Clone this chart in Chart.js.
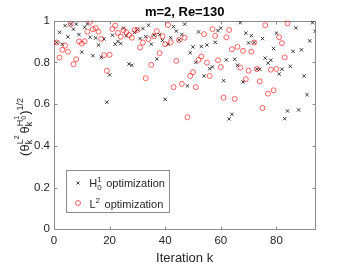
<!DOCTYPE html>
<html>
<head>
<meta charset="utf-8">
<script src="https://cdn.jsdelivr.net/npm/chart.js@4"></script>
<style>
  html, body { margin: 0; background: #fff; }
  canvas { display: block; }
</style>
</head>
<body>
<canvas id="chart" width="341" height="266"></canvas>
<script>
// Chart text and ticks
const TITLE = 'm=2, Re=130';
const X_LABEL = 'Iteration k';
const X_TICKS = [0, 20, 40, 60, 80];
const Y_TICKS = [0, 0.2, 0.4, 0.6, 0.8, 1];
const Y_TICK_LABELS = ['0', '0.2', '0.4', '0.6', '0.8', '1'];
const SERIES_LABELS = ['H\u2080\u00b9 optimization', 'L\u00b2 optimization'];

// H^1_0 optimization, iterations 1..94 (black crosses)
const H1_VALUES = [
  0.895, 0.944, 0.887, 0.976, 0.922, 0.983, 0.959, 0.983, 0.933, 0.849,
  0.968, 0.984, 0.920, 0.832, 0.917, 0.883, 0.824, 0.912, 0.609, 0.740,
  0.930, 0.887, 0.900, 0.890, 0.964, 0.927, 0.792, 0.786, 0.943, 0.957,
  0.914, 0.962, 0.923, 0.978, 0.887, 0.930, 0.816, 0.933, 0.905, 0.623,
  0.887, 0.918, 0.971, 0.950, 0.907, 0.933, 0.983, 0.687, 0.846, 0.874,
  0.800, 0.946, 0.876, 0.735, 0.883, 0.770, 0.778, 0.896, 0.952, 0.964,
  0.712, 0.812, 0.529, 0.551, 0.815, 0.786, 0.990, 0.706, 0.940, 0.893,
  0.928, 0.895, 0.767, 0.767, 0.914, 0.820, 0.796, 0.810, 0.866, 0.940,
  0.744, 0.767, 0.530, 0.567, 0.781, 0.853, 0.965, 0.572, 0.860, 0.735,
  0.645, 0.903, 0.990, 0.949
];

// L^2 optimization, iterations 1..84 (red circles)
const L2_VALUES = [
  0.895, 0.823, 0.860, 0.880, 0.851, 0.983, 0.791, 0.815, 0.900, 0.890,
  0.901, 0.947, 0.994, 0.959, 0.964, 0.947, 0.912, 0.834, 0.760, 0.836,
  0.960, 0.976, 0.941, 0.923, 0.954, 0.944, 0.931, 0.918, 0.955, 0.955,
  0.871, 0.895, 0.724, 0.911, 0.788, 0.925, 0.949, 0.844, 0.925, 0.887,
  0.979, 0.896, 0.681, 0.807, 0.907, 0.697, 0.918, 0.537, 0.735, 0.753,
  0.681, 0.812, 0.828, 0.935, 0.799, 0.735, 0.959, 0.927, 0.810, 0.777,
  0.631, 0.920, 0.955, 0.863, 0.625, 0.874, 0.775, 0.855, 0.719, 0.760,
  0.851, 0.895, 0.768, 0.709, 0.581, 0.978, 0.650, 0.765, 0.666, 0.768,
  0.920, 0.892, 0.824, 0.986
];

const FONT = '"Liberation Sans", Arial, Helvetica, sans-serif';
const AXIS_COLOR = '#8c8c8c';
const TEXT_COLOR = '#262626';
const CROSS_COLOR = 'rgba(0,0,0,0.75)';
const CIRCLE_COLOR = 'rgba(255,0,0,0.6)';

const toPoints = vals => vals.map((v, i) => ({ x: i + 1, y: v }));

// MATLAB-style box with inward ticks on all four sides
const framePlugin = {
  id: 'frame',
  beforeDatasetsDraw(chart) {
    const { ctx, chartArea: a, scales } = chart;
    const L = Math.round(a.left) + 0.5, R = Math.round(a.right) + 0.5;
    const T = Math.round(a.top) + 0.5, B = Math.round(a.bottom) + 0.5;
    ctx.save();
    ctx.strokeStyle = AXIS_COLOR;
    ctx.lineWidth = 1;
    ctx.strokeRect(L, T, R - L, B - T);
    ctx.beginPath();
    X_TICKS.forEach(v => {
      const px = Math.round(scales.x.getPixelForValue(v)) + 0.5;
      ctx.moveTo(px, B); ctx.lineTo(px, B - 3);
      ctx.moveTo(px, T); ctx.lineTo(px, T + 3);
    });
    Y_TICKS.forEach(v => {
      const py = Math.round(scales.y.getPixelForValue(v)) + 0.5;
      ctx.moveTo(L, py); ctx.lineTo(L + 3, py);
      ctx.moveTo(R, py); ctx.lineTo(R - 3, py);
    });
    ctx.stroke();
    ctx.restore();
  }
};

// rotated y label: (theta_k^{L^2} theta_k^{H^1_0})^{1/2}
function yTitleRuns(ctx, draw) {
  let x = 0;
  const put = (t, s, dx, dy) => {
    ctx.font = s + 'px ' + FONT;
    if (draw) ctx.fillText(t, x + dx, dy);
    return ctx.measureText(t).width;
  };
  x += put('(', 13, 0, 0);
  x += put('\u03b8', 13, 0, 0);
  let a = put('k', 9, 0, 3);
  let b = put('L', 9, 0, -6);
  b += put('2', 7, b, -10);
  x += Math.max(a, b) + 2;
  x += put('\u03b8', 13, 0, 0);
  a = put('k', 9, 0, 3);
  b = put('H', 9, 0, -6);
  b += Math.max(put('1', 7, b, -10), put('0', 7, b, -3));
  x += Math.max(a, b) + 1;
  x += put(')', 13, 0, 0);
  x += put('1/2', 9, 0, -6);
  return x;
}

const yTitlePlugin = {
  id: 'yTitle',
  afterDraw(chart) {
    const { ctx, chartArea: a } = chart;
    ctx.save();
    ctx.fillStyle = TEXT_COLOR;
    ctx.textBaseline = 'alphabetic';
    const w = yTitleRuns(ctx, false);
    ctx.translate(28.5, (a.top + a.bottom) / 2 + 2 + w / 2);
    ctx.rotate(-Math.PI / 2);
    yTitleRuns(ctx, true);
    ctx.restore();
  }
};

// legend box inside the axes, lower left
const legendPlugin = {
  id: 'boxLegend',
  afterDatasetsDraw(chart) {
    const { ctx } = chart;
    ctx.save();
    ctx.fillStyle = '#fff';
    ctx.strokeStyle = AXIS_COLOR;
    ctx.lineWidth = 1;
    ctx.fillRect(66.5, 170.5, 103, 42);
    ctx.strokeRect(66.5, 170.5, 103, 42);

    // markers
    ctx.lineWidth = 1;
    ctx.strokeStyle = CROSS_COLOR;
    ctx.beginPath();
    ctx.moveTo(76.5, 181.5); ctx.lineTo(79.5, 184.5);
    ctx.moveTo(79.5, 181.5); ctx.lineTo(76.5, 184.5);
    ctx.stroke();
    ctx.strokeStyle = CIRCLE_COLOR;
    ctx.beginPath();
    ctx.arc(78, 203, 2.5, 0, Math.PI * 2);
    ctx.stroke();

    // labels
    ctx.fillStyle = TEXT_COLOR;
    ctx.textBaseline = 'alphabetic';
    const put = (t, s, x, y) => {
      ctx.font = s + 'px ' + FONT;
      ctx.fillText(t, x, y);
      return ctx.measureText(t).width;
    };
    let x = 89.3;
    x += put('H', 11, x, 186.8);
    x += Math.max(put('1', 8, x, 181.5), put('0', 8, x, 190));
    put('optimization', 11, x + 4.5, 186.8);
    x = 89.5;
    x += put('L', 11, x, 208);
    x += put('2', 8, x, 202.5);
    put('optimization', 11, x + 4.5, 208);
    ctx.restore();
  }
};

new Chart(document.getElementById('chart'), {
  type: 'scatter',
  data: {
    datasets: [
      {
        label: SERIES_LABELS[0],
        data: toPoints(H1_VALUES),
        pointStyle: 'crossRot',
        pointRadius: 2.4,
        borderColor: CROSS_COLOR,
        backgroundColor: CROSS_COLOR,
        borderWidth: 1,
        order: 2
      },
      {
        label: SERIES_LABELS[1],
        data: toPoints(L2_VALUES),
        pointStyle: 'circle',
        pointRadius: 2.5,
        borderColor: CIRCLE_COLOR,
        backgroundColor: 'rgba(0,0,0,0)',
        borderWidth: 1,
        order: 1
      }
    ]
  },
  options: {
    responsive: false,
    animation: false,
    layout: { padding: { left: 0, right: 25.7, top: 0, bottom: 0 } },
    plugins: {
      legend: { display: false },
      tooltip: { enabled: false },
      title: {
        display: true,
        text: TITLE,
        fullSize: false,
        color: '#000',
        font: { family: FONT, size: 13, weight: 'bold' },
        padding: { top: 5, bottom: 0 }
      }
    },
    scales: {
      x: {
        type: 'linear',
        min: 0,
        max: 94,
        afterBuildTicks: s => { s.ticks = X_TICKS.map(v => ({ value: v })); },
        afterFit: s => { s.height = 36.7; },
        grid: { display: false, drawTicks: false },
        border: { display: false },
        ticks: { color: TEXT_COLOR, padding: 5, font: { family: FONT, size: 11.5 } },
        title: {
          display: true,
          text: X_LABEL,
          color: TEXT_COLOR,
          font: { family: FONT, size: 13 },
          padding: { top: 0, bottom: 0 }
        }
      },
      y: {
        min: 0,
        max: 1,
        afterBuildTicks: s => { s.ticks = Y_TICKS.map(v => ({ value: v })); },
        afterFit: s => { s.width = 54; },
        grid: { display: false, drawTicks: false },
        border: { display: false },
        ticks: {
          color: TEXT_COLOR,
          padding: 4,
          font: { family: FONT, size: 11.5 },
          callback: (v, i) => Y_TICK_LABELS[i]
        }
      }
    }
  },
  plugins: [framePlugin, legendPlugin, yTitlePlugin]
});
</script>
</body>
</html>
